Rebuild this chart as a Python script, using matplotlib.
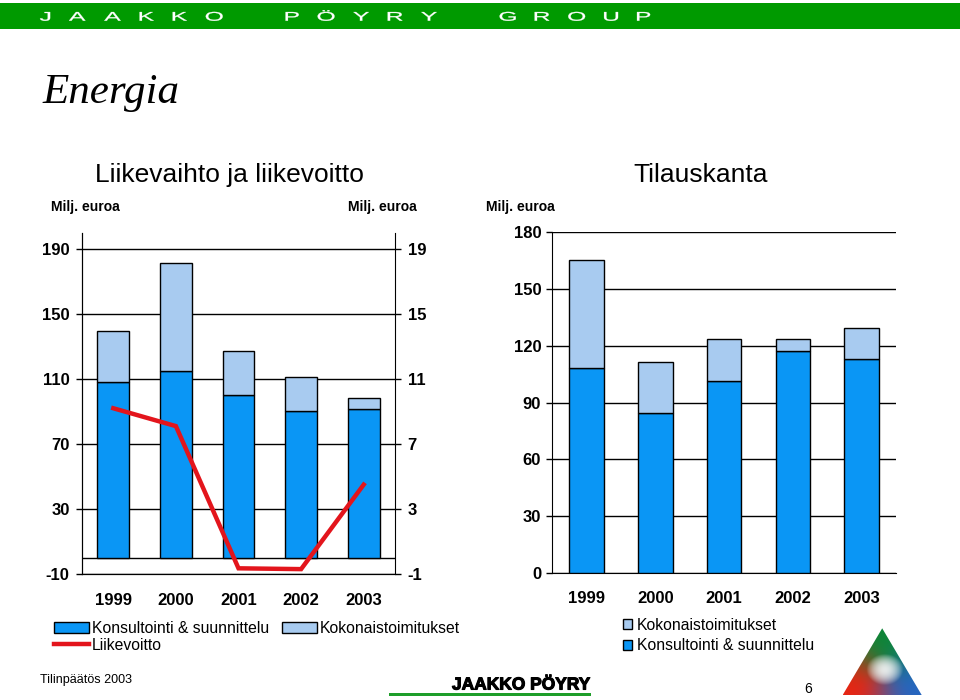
import numpy as np
import matplotlib
matplotlib.use("Agg")
import matplotlib.pyplot as plt
import matplotlib.patheffects as pe
from matplotlib.patches import Rectangle, Polygon, Patch, PathPatch
from matplotlib.lines import Line2D
from matplotlib.textpath import TextPath
from matplotlib.font_manager import FontProperties
from matplotlib.transforms import Affine2D

# --------------------------
# DATA
# --------------------------
years = ["1999", "2000", "2001", "2002", "2003"]

# Liikevaihto (Milj. euroa)
lv_konsultointi = [108.2, 114.7, 100.2, 90.3, 91.3]
lv_kokonais = [31.3, 66.7, 27.0, 20.9, 6.7]
# Liikevoitto (Milj. euroa, right axis)
liikevoitto = [9.2, 8.1, -0.65, -0.7, 4.5]

# Tilauskanta (Milj. euroa)
tk_konsultointi = [108.3, 84.7, 101.6, 117.3, 112.9]
tk_kokonais = [57.2, 27.0, 22.0, 6.3, 16.4]

lv_ticks = [-10, 30, 70, 110, 150, 190]
lv_ticks_right = [-1, 3, 7, 11, 15, 19]
tk_ticks = [0, 30, 60, 90, 120, 150, 180]

# --------------------------
# STYLE
# --------------------------
DARK = "#0a96f5"
LIGHT = "#a8cbf0"
RED = "#e3151c"
GREEN = "#009a00"
plt.rcParams["font.family"] = ["Liberation Sans", "DejaVu Sans"]
plt.rcParams["axes.unicode_minus"] = False

W, H = 960, 700
fig = plt.figure(figsize=(W / 100, H / 100), dpi=100)


def fx(px):
    return px / W


def fy(py):
    return 1 - py / H


# overlay in pixel coordinates for the page decoration
ov = fig.add_axes([0, 0, 1, 1], zorder=-1)
ov.set_xlim(0, W)
ov.set_ylim(H, 0)
ov.set_axis_off()

# header band with wide, letter-spaced company name
ov.add_patch(Rectangle((0, 3), W, 26, color=GREEN, lw=0))
hdr_font = FontProperties(family="Liberation Sans")
pos = 40
for word in ["JAAKKO", "PÖYRY", "GROUP"]:
    for ch in word:
        tp = TextPath((0, 0), ch, size=12.6, prop=hdr_font)
        ext = tp.get_extents()
        tr = Affine2D().translate(-ext.x0, 0).scale(1.95, -1).translate(pos, 20.7)
        ov.add_patch(PathPatch(tr.transform_path(tp), facecolor="white",
                               edgecolor="white", lw=0.2))
        pos += (ext.x1 - ext.x0) * 1.95 + 19
    pos += 44

fig.text(fx(42), fy(93), "Energia", family="Liberation Serif", style="italic",
         fontsize=31, va="center", ha="left")

# --------------------------
# LEFT CHART: Liikevaihto ja liikevoitto
# --------------------------
x = np.arange(len(years))
ax = fig.add_axes([fx(82), fy(574), 313 / W, (574 - 232.75) / H])
ax.bar(x, lv_konsultointi, width=0.51, color=DARK, edgecolor="black", lw=1, zorder=3)
ax.bar(x, lv_kokonais, width=0.51, bottom=lv_konsultointi, color=LIGHT,
       edgecolor="black", lw=1, zorder=3)
ax.set_xlim(-0.5, 4.5)
ax.set_ylim(-10, 200)
ax.set_yticks(lv_ticks)
ax.yaxis.grid(True, color="black", lw=1)
ax.axhline(0, color="black", lw=1, zorder=2)
ax.set_axisbelow(True)
ax.set_xticks(x)
ax.set_xticklabels(years, fontsize=12, fontweight="bold")
ax.tick_params(axis="x", length=0, pad=14)
ax.tick_params(axis="y", direction="out", length=4, width=1, pad=5, labelsize=12)
for lab in ax.get_yticklabels():
    lab.set_fontweight("bold")
ax.spines["top"].set_visible(False)
ax.spines["right"].set_visible(False)

ax2 = ax.twinx()
ax2.plot(x, liikevoitto, color=RED, lw=3.2, solid_joinstyle="miter", zorder=5)
ax2.set_ylim(-1, 20)
ax2.set_yticks(lv_ticks_right)
ax2.tick_params(axis="y", direction="out", length=4, width=1, pad=5, labelsize=12)
for lab in ax2.get_yticklabels():
    lab.set_fontweight("bold")
ax2.spines["top"].set_visible(False)

fig.text(fx(229), fy(175), "Liikevaihto ja liikevoitto", fontsize=19,
         ha="center", va="center")
fig.text(fx(51), fy(207), "Milj. euroa", fontsize=10, fontweight="bold",
         ha="left", va="center")
fig.text(fx(417), fy(207), "Milj. euroa", fontsize=10, fontweight="bold",
         ha="right", va="center")

left_handles = [
    Patch(facecolor=DARK, edgecolor="black", lw=1),
    Line2D([], [], color=RED, lw=3.2),
    Patch(facecolor=LIGHT, edgecolor="black", lw=1),
]
left_labels = ["Konsultointi & suunnittelu", "Liikevoitto", "Kokonaistoimitukset"]
fig.legend(left_handles, left_labels, loc="upper left",
           bbox_to_anchor=(fx(54), fy(621)), ncol=2, frameon=False,
           fontsize=11.3, handlelength=2.2, handleheight=0.7, handletextpad=0.2,
           labelspacing=0.1, columnspacing=0.85, borderpad=0, borderaxespad=0)

# --------------------------
# RIGHT CHART: Tilauskanta
# --------------------------
bx = fig.add_axes([fx(552.3), fy(573), (896 - 552.3) / W, (573 - 232.3) / H])
bx.bar(x, tk_konsultointi, width=0.5, color=DARK, edgecolor="black", lw=1, zorder=3)
bx.bar(x, tk_kokonais, width=0.5, bottom=tk_konsultointi, color=LIGHT,
       edgecolor="black", lw=1, zorder=3)
bx.set_xlim(-0.5, 4.5)
bx.set_ylim(0, 180)
bx.set_yticks(tk_ticks)
bx.yaxis.grid(True, color="black", lw=1)
bx.set_axisbelow(True)
bx.set_xticks(x)
bx.set_xticklabels(years, fontsize=12, fontweight="bold")
bx.tick_params(axis="x", length=0, pad=13)
bx.tick_params(axis="y", direction="out", length=4, width=1, pad=4, labelsize=12)
for lab in bx.get_yticklabels():
    lab.set_fontweight("bold")
for s in ["top", "right"]:
    bx.spines[s].set_visible(False)

fig.text(fx(701), fy(175), "Tilauskanta", fontsize=19, ha="center", va="center")
fig.text(fx(486), fy(207), "Milj. euroa", fontsize=10, fontweight="bold",
         ha="left", va="center")

right_handles = [
    Patch(facecolor=LIGHT, edgecolor="black", lw=1),
    Patch(facecolor=DARK, edgecolor="black", lw=1),
]
fig.legend(right_handles, ["Kokonaistoimitukset", "Konsultointi & suunnittelu"],
           loc="upper left", bbox_to_anchor=(fx(623), fy(618)), frameon=False,
           fontsize=11.3, handlelength=0.6, handleheight=0.6, handletextpad=0.3,
           labelspacing=0.35, borderpad=0, borderaxespad=0)

# --------------------------
# FOOTER
# --------------------------
fig.text(fx(40), fy(680), "Tilinpäätös 2003", fontsize=9, ha="left", va="center")
fig.text(fx(590), fy(685), "JAAKKO PÖYRY", fontsize=12.5, fontweight="bold",
         ha="right", va="center",
         path_effects=[pe.withStroke(linewidth=0.8, foreground="black")])
ov.add_patch(Rectangle((389, 693), 202, 3, color="#1e9e2a", lw=0))
fig.text(fx(808), fy(689), "6", fontsize=10, ha="center", va="center")

# gradient triangle logo
tri = fig.add_axes([fx(842.7), fy(695), 79 / W, 66.7 / H])
tri.set_axis_off()
n = 120
gx, gy = np.meshgrid(np.linspace(0, 1, n), np.linspace(0, 1, n))
pa, pb, pc = np.array([0.5, 1.0]), np.array([0.0, 0.0]), np.array([1.0, 0.0])
den = (pb[1] - pc[1]) * (pa[0] - pc[0]) + (pc[0] - pb[0]) * (pa[1] - pc[1])
wa = ((pb[1] - pc[1]) * (gx - pc[0]) + (pc[0] - pb[0]) * (gy - pc[1])) / den
wb = ((pc[1] - pa[1]) * (gx - pc[0]) + (pa[0] - pc[0]) * (gy - pc[1])) / den
wc = 1 - wa - wb
# sharpen the blend so each corner keeps its own colour
wts = np.stack([wa, wb, wc], axis=-1).clip(0, 1) ** 2
wts = wts / wts.sum(axis=-1, keepdims=True)
cols = np.array([[0.06, 0.52, 0.22], [0.90, 0.15, 0.08], [0.15, 0.40, 0.75]])
img = wts @ cols
glow = np.clip(1 - 18 * ((gx - 0.53) ** 2 + (gy - 0.38) ** 2), 0, 1)[..., None] * 0.85
img = np.clip(img * (1 - glow) + glow, 0, 1)
im = tri.imshow(img, origin="lower", extent=(0, 1, 0, 1), aspect="auto")
clip = Polygon([pa, pb, pc], closed=True, transform=tri.transData,
               facecolor="none", edgecolor="none")
tri.add_patch(clip)
im.set_clip_path(clip)
tri.set_xlim(0, 1)
tri.set_ylim(0, 1)

fig.savefig("out.png", dpi=100)
